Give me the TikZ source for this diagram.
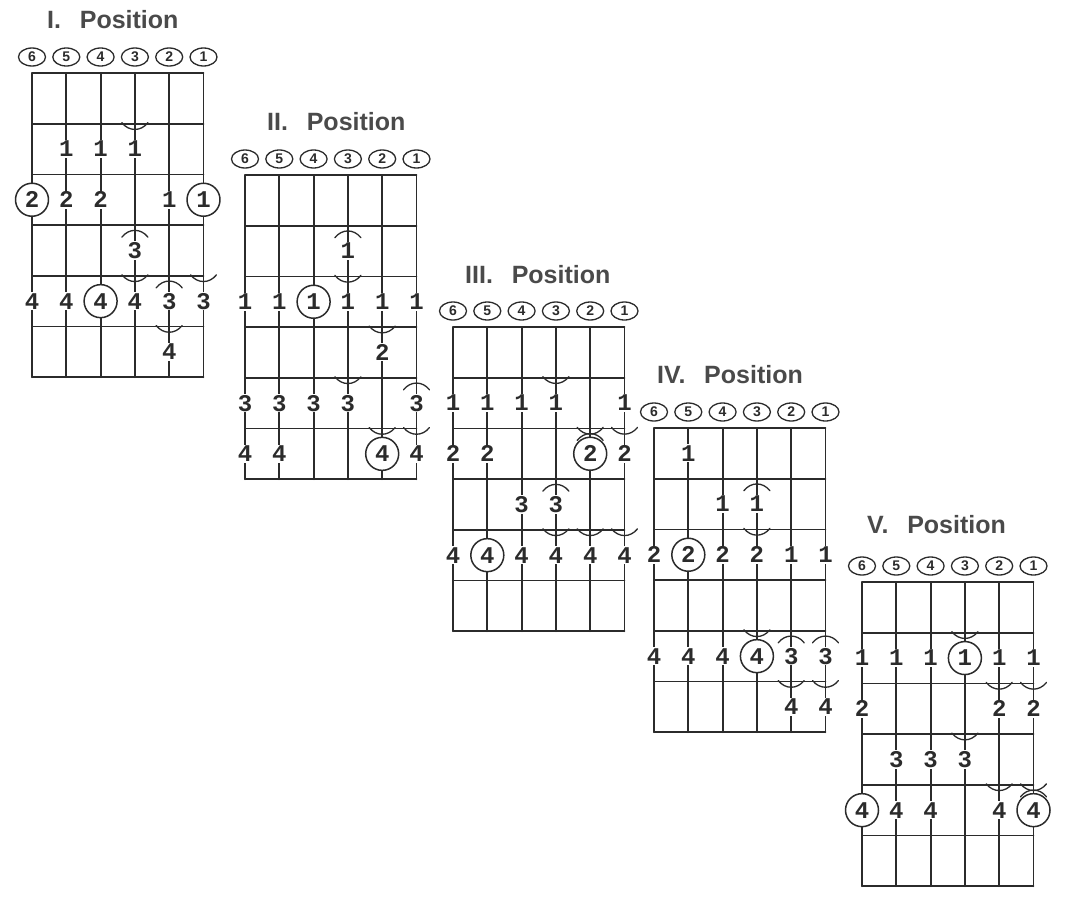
\documentclass[tikz,border=0pt]{standalone}
\usepackage{fontspec}
\setmainfont{Liberation Sans}
\newfontfamily\digitfont{Liberation Mono}
\usepackage{tikz}
\usetikzlibrary{shapes.geometric}
\definecolor{ink}{HTML}{2B2B2B}
\definecolor{titlegray}{HTML}{4A4A4A}
\tikzset{
  every picture/.style={line join=round, line cap=round},
  gridline/.style={ink, line width=1.8pt},
  arcmark/.style={ink, line width=1.3pt},
  finger/.style={fill=white, inner sep=1pt, text=ink, font=\digitfont\bfseries\fontsize{24pt}{24pt}\selectfont},
  ring/.style={finger, circle, draw=ink, line width=1.5pt, minimum size=33pt, inner sep=0pt},
  strno/.style={ellipse, draw=ink, line width=1.3pt, minimum width=27pt, minimum height=18pt, inner sep=0pt, text=ink, font=\bfseries\fontsize{14pt}{14pt}\selectfont},
  postitle/.style={anchor=west, inner sep=0pt, text=titlegray, font=\bfseries\fontsize{25pt}{25pt}\selectfont},
}
\newcommand\fretdx{34.3}
\newcommand\fretdy{50.7}
\newcommand\fretboard{%
  \foreach \c in {0,...,5} \draw[gridline] (\c*\fretdx,0)--(\c*\fretdx,6*\fretdy);
  \foreach \r in {0,...,6} \draw[gridline] (0,\r*\fretdy)--(5*\fretdx,\r*\fretdy);
  \foreach \n [count=\c from 0] in {6,5,4,3,2,1} \node[strno] (s\n) at (\c*\fretdx,-16) {\n};
}
\newcommand\fingers[1]{\foreach \s/\f/\n in {#1}
  \node[finger] (f\s\f) at ({(6-\s)*\fretdx},{(\f-.5)*\fretdy}) {\n};}
\newcommand\rings[1]{\foreach \s/\f/\n in {#1}
  \node[ring] (r\s\f) at ({(6-\s)*\fretdx},{(\f-.5)*\fretdy}) {\n};}
\newcommand\smiles[1]{\foreach \s/\l in {#1}
  \draw[arcmark]({(6-\s)*\fretdx-13},{\l*\fretdy-1}) .. controls ({(6-\s)*\fretdx-6},{\l*\fretdy+8}) and ({(6-\s)*\fretdx+6},{\l*\fretdy+8}) .. ({(6-\s)*\fretdx+13},{\l*\fretdy-1});}
\newcommand\frowns[1]{\foreach \s/\l in {#1}
  \draw[arcmark]({(6-\s)*\fretdx-13},{\l*\fretdy+12}) .. controls ({(6-\s)*\fretdx-6},{\l*\fretdy+3}) and ({(6-\s)*\fretdx+6},{\l*\fretdy+3}) .. ({(6-\s)*\fretdx+13},{\l*\fretdy+12});}

\begin{document}
\begin{tikzpicture}[x=1pt,y=-1pt]
\useasboundingbox[fill=white](0,0) rectangle (1065,899);
\begin{scope}[shift={(32,73)},name prefix=I-]
\fretboard
\node[postitle] (title) at (15,-53) {I.\hspace{.75em}Position};
\fingers{5/2/1,4/2/1,3/2/1,5/3/2,4/3/2,2/3/1,3/4/3,6/5/4,5/5/4,3/5/4,2/5/3,1/5/3,2/6/4}
\rings{6/3/2,1/3/1,4/5/4}
\smiles{3/1,3/4,1/4,2/5}
\frowns{3/3,2/4}
\end{scope}
\begin{scope}[shift={(245,175)},name prefix=II-]
\fretboard
\node[postitle] (title) at (22,-53) {II.\hspace{.75em}Position};
\fingers{3/2/1,6/3/1,5/3/1,3/3/1,2/3/1,1/3/1,2/4/2,6/5/3,5/5/3,4/5/3,3/5/3,1/5/3,6/6/4,5/6/4,1/6/4}
\rings{4/3/1,2/6/4}
\smiles{3/2,2/3,3/4,2/5,1/5}
\frowns{3/1,1/4}
\end{scope}
\begin{scope}[shift={(453,327)},name prefix=III-]
\fretboard
\node[postitle] (title) at (12,-52) {III.\hspace{.75em}Position};
\fingers{6/2/1,5/2/1,4/2/1,3/2/1,1/2/1,6/3/2,5/3/2,1/3/2,4/4/3,3/4/3,6/5/4,4/5/4,3/5/4,2/5/4,1/5/4}
\rings{2/3/2,5/5/4}
\smiles{3/1,2/2,1/2,3/4,2/4,1/4}
\frowns{2/2,3/3}
\end{scope}
\begin{scope}[shift={(654,428)},name prefix=IV-]
\fretboard
\node[postitle] (title) at (3,-53) {IV.\hspace{.75em}Position};
\fingers{5/1/1,4/2/1,3/2/1,6/3/2,4/3/2,3/3/2,2/3/1,1/3/1,6/5/4,5/5/4,4/5/4,2/5/3,1/5/3,2/6/4,1/6/4}
\rings{5/3/2,3/5/4}
\smiles{3/2,3/4,2/5,1/5}
\frowns{3/1,2/4,1/4}
\end{scope}
\begin{scope}[shift={(862,582)},name prefix=V-]
\fretboard
\node[postitle] (title) at (5,-57) {V.\hspace{.75em}Position};
\fingers{6/2/1,5/2/1,4/2/1,2/2/1,1/2/1,6/3/2,2/3/2,1/3/2,5/4/3,4/4/3,3/4/3,5/5/4,4/5/4,2/5/4}
\rings{3/2/1,6/5/4,1/5/4}
\smiles{3/1,2/2,1/2,3/3,2/4,1/4}
\frowns{1/4}
\end{scope}
\end{tikzpicture}
\end{document}
